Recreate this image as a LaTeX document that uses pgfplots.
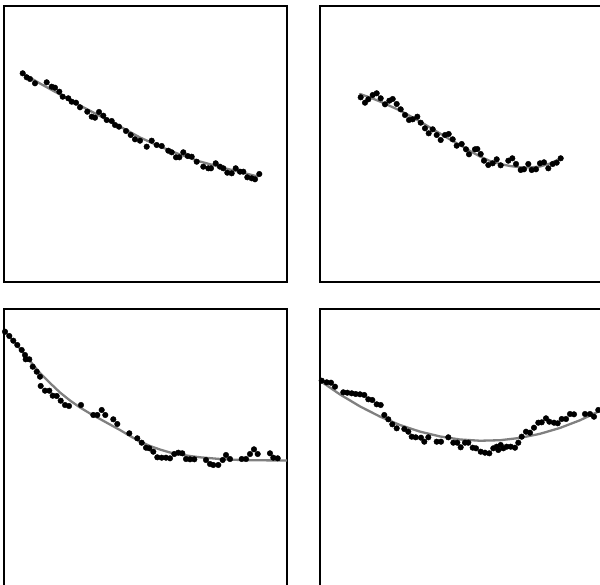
\documentclass[border=0pt]{standalone}
\usepackage{pgfplots}
\pgfplotsset{compat=1.18}
\pgfplotsset{mypanel/.style={
  scale only axis, width=283pt, height=276pt, anchor=north west,
  y dir=reverse, xtick=\empty, ytick=\empty,
  axis line style={line width=1.1pt, black},
  clip=true},
  myfit/.style={no marks, line width=2.3pt, color=black!50, line cap=round, line join=round},
  mypts/.style={only marks, mark=*, mark size=2.8pt, color=black, mark options={fill=black}}
}
\begin{document}
\begin{tikzpicture}
\path[use as bounding box] (0pt,0pt) rectangle (600pt,584pt);
% top-left
\begin{axis}[mypanel, at={(4pt,578pt)}, xmin=4, xmax=287, ymin=6, ymax=282]
\addplot[mypts] coordinates {
(22.7,73.3) (26.7,77.3) (30,79) (35,83.3) (46.7,82.3) (51.7,86.7) (55,87.7) (59.3,91.7) (62.7,96.7) (68.3,98.3) (71.7,101.7) (76,102.7) (80,107.3) (87.3,111.7) (91.7,116.7) (95,117.7) (99,112) (103.3,115.7) (106.7,120) (111.7,121) (115,125) (119,126.7) (126,131) (130.7,135) (135,139.3) (140,140.7) (146.7,146.7) (151.7,140.7) (156.7,145) (161.7,146) (168.3,150.7) (171.7,152.3) (176,157.3) (179.3,157.3) (183.3,152.3) (187.7,156) (191.7,156.7) (196.7,161.7) (203.3,166.7) (208.3,168.3) (211,168.3) (215.7,163.3) (220,166.7) (223.3,168.3) (227.3,172.7) (231.7,173.3) (235.7,168.3) (240,171.7) (243.3,171.7) (247.3,177.3) (251.7,178.3) (255,179.3) (259.3,174)};
\addplot[myfit] coordinates {(22,73) (40,83.5) (60,94.5) (80,105.5) (100,116) (120,126.5) (140,137.5) (160,146.5) (180,154.5) (200,161.5) (220,167) (240,172) (258,176.5)};
\end{axis}
% top-right
\begin{axis}[mypanel, at={(320pt,578pt)}, xmin=320, xmax=603, ymin=6, ymax=282]
\addplot[mypts] coordinates {
(360.7,97.3) (365,102.7) (368.3,99.3) (372.7,95) (376.7,93.3) (380.7,98.3) (385,104.3) (389.3,100.7) (392.7,99) (396.7,104) (400.7,109.3) (405,115) (409,120) (412.7,119.3) (417.3,116.7) (420.7,122.7) (425,128.3) (428.7,133.3) (432.7,129.3) (436.7,135) (440.7,140) (445,135) (448.7,134) (452.7,139.3) (456.7,145.7) (461.7,144) (466,149.3) (469,154.3) (475,149.3) (477.3,149) (480.7,154) (484,160.7) (488.3,165) (492.7,163.3) (496.7,159.3) (500.7,165.3) (508.3,160.7) (512.3,158.3) (516,164) (520.7,170) (524,169.3) (528.3,164) (531.7,170) (536,169.3) (540,163.3) (544,162.3) (548.3,168.3) (552.7,164) (556.7,162.7) (560.7,158.3)};
\addplot[myfit] coordinates {(360,94) (370,97.5) (380,101.5) (390,106) (400,110.5) (410,116) (420,121.5) (430,127.5) (440,133.5) (450,139.5) (460,145) (470,151) (480,156.5) (490,161) (500,164) (510,166) (520,167.3) (530,167.5) (540,166.5) (550,163.5) (560.7,158.5)};
\end{axis}
% bottom-left
\begin{axis}[mypanel, height=281pt, at={(4pt,275pt)}, xmin=4, xmax=287, ymin=309, ymax=590]
\addplot[mypts] coordinates {
(5,331.7) (9.3,336) (13.3,340.7) (17.3,345) (21.7,350) (25,355) (29.3,359.3) (25.7,359.3) (32.7,366.7) (36.7,371.7) (40,376.7) (40.7,386) (45,390.7) (49.3,390.7) (52.7,395.7) (56.7,396) (60.7,400.7) (65,405) (69,406) (81,405) (93.3,415) (97.3,415) (101.7,410) (105.3,415) (113.3,419.3) (117.3,424) (129.3,433.3) (137.3,438.3) (141.7,442.7) (146,447.7) (149.3,448.3) (153.3,451.7) (157.3,457.3) (161.7,457.7) (166,457.7) (170,458.3) (174.3,454) (178.3,452.7) (182.3,453.3) (186,459) (190,459.3) (194.3,459.3) (206,460) (210,464) (213.3,465) (218.3,465) (222.7,460) (226,455) (230,459) (241.7,459) (246,459) (250,454) (254,449.3) (257.7,454) (270,453.3) (273.3,457.7) (277.7,458.3)};
\addplot[myfit] coordinates {(4,331) (10,337.5) (20,348.5) (30,361) (40,373) (50,383) (60,392.5) (70,400.5) (80,407.5) (90,413.5) (100,419) (110,424.5) (120,430) (130,436) (140,441.5) (150,446) (160,449.5) (170,452.5) (180,454.5) (190,456) (200,457.3) (220,459) (240,460) (260,460.3) (287,460.5)};
\end{axis}
% bottom-right
\begin{axis}[mypanel, height=281pt, at={(320pt,275pt)}, xmin=320, xmax=603, ymin=309, ymax=590]
\addplot[mypts] coordinates {
(321.7,380.7) (326.7,382.3) (331,382.7) (335,386.7) (343.3,392.3) (347.3,392.7) (351.7,393.3) (355.7,394) (360,394.3) (364.3,395) (368.3,399.3) (372.3,400) (376.7,404.3) (380.7,405) (384.3,415) (388.3,419.3) (392.3,424.3) (396.7,428.3) (404.3,429) (408.3,431.7) (411.7,436.7) (415.7,437.3) (421,437.7) (424.3,441.7) (428.3,437.3) (436.7,441.7) (441,441.7) (448.3,437.3) (453.3,442.7) (457.3,442.7) (460.7,447.3) (465,442.7) (468.3,442.7) (472.7,447.7) (476,448.3) (480.7,451.7) (485,452.7) (489.3,453.3) (493.3,448.3) (496.7,446.7) (498.3,450) (500.7,445) (503.3,448.3) (506.7,446.7) (510.7,446.7) (515,447.7) (518.3,442.7) (521.7,436.7) (526,431.7) (530,432.7) (534,427.7) (538.3,422.7) (541.7,422.3) (546,418.3) (549.3,421.7) (554,422.7) (557.7,423.3) (561.7,419) (566,419) (570,414) (574,414.3) (585,414) (590,414) (594,416.7) (598.3,410)};
\addplot[myfit] coordinates {(320,380.7) (340,394.45) (360,406.42) (380,416.6) (400,425) (420,431.62) (440,436.44) (460,439.49) (480,440.74) (500,440.22) (520,437.91) (540,433.81) (560,427.94) (580,420.27) (600,410.82)};
\end{axis}
\end{tikzpicture}
\end{document}
